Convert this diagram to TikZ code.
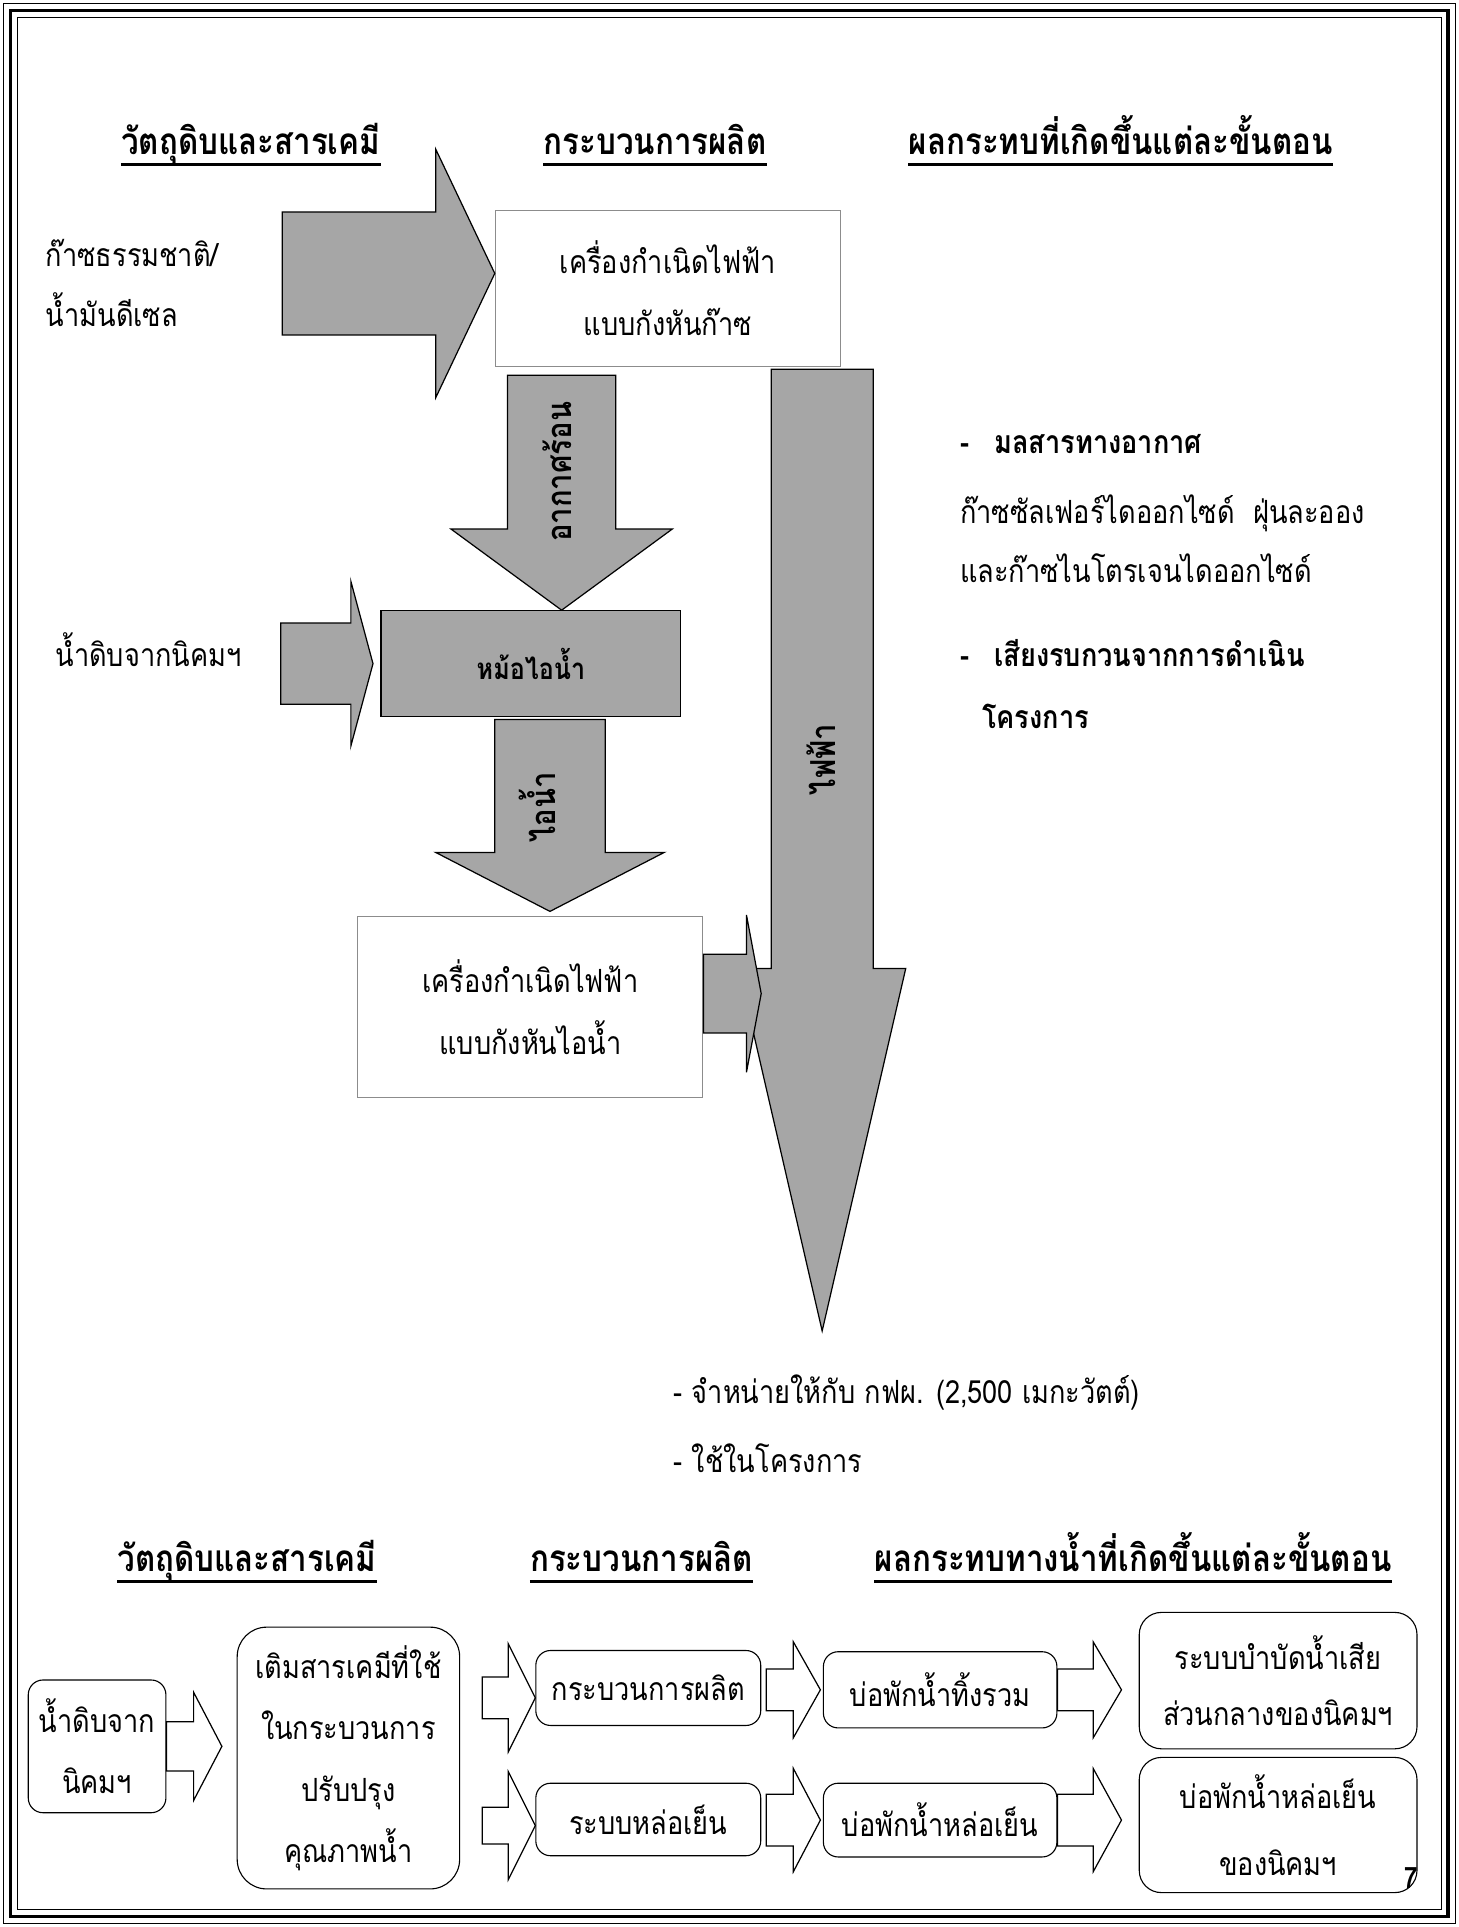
\documentclass[tikz,border=0pt]{standalone}
\usepackage{fontspec}
\setmainfont[Script=Thai, FakeStretch=0.85]{Loma}
\usetikzlibrary{positioning,calc}

% block arrows: style, tail, tip, shaft half width, head half width, head length
\newcommand{\rblock}[6]{\draw[#1] let \p1=#2, \p2=#3 in (\x1,\y2+#4) -- (\x2-#6,\y2+#4) -- (\x2-#6,\y2+#5) -- (\x2,\y2) -- (\x2-#6,\y2-#5) -- (\x2-#6,\y2-#4) -- (\x1,\y2-#4) -- cycle;}
\newcommand{\dblock}[6]{\draw[#1] let \p1=#2, \p2=#3 in (\x2-#4,\y1) -- (\x2-#4,\y2+#6) -- (\x2-#5,\y2+#6) -- (\x2,\y2) -- (\x2+#5,\y2+#6) -- (\x2+#4,\y2+#6) -- (\x2+#4,\y1) -- cycle;}

\begin{document}
\begin{tikzpicture}[x=1pt, y=-1pt,
  head/.style={font=\bfseries\fontsize{30}{34}\selectfont, anchor=base, inner xsep=0pt},
  uline/.style={line width=2.5pt},
  txt/.style={font=\fontsize{26}{30}\selectfont, anchor=base west, inner sep=0pt},
  btxt/.style={font=\bfseries\fontsize{26}{30}\selectfont, anchor=base west, inner sep=0pt},
  gbox/.style={draw=black!45, line width=0.8pt, align=center, inner sep=0pt, font=\fontsize{26}{50}\selectfont},
  rbox/.style={draw, line width=0.9pt, rounded corners=12pt, align=center, inner sep=0pt, font=\fontsize{26}{50}\selectfont},
  blk/.style={draw, line width=1pt, fill=black!35},
  wblk/.style={draw, line width=1pt, fill=white},
  vlab/.style={rotate=90, font=\bfseries\fontsize{28}{30}\selectfont}]

\useasboundingbox (0,0) rectangle (1187,1568);

% frame
\draw[line width=0.8pt] (3,3) rectangle (1184,1565);
\draw[line width=3pt] (8.5,8.5) rectangle (1178.5,1559.5);
\draw[line width=0.8pt] (14,14) rectangle (1173,1554);

%upper part: headings
\node[head] (h1) at (204,126) {วัตถุดิบและสารเคมี};
\node[head] (h2) at (533,126) {กระบวนการผลิต};
\node[head] (h3) at (912,126) {ผลกระทบที่เกิดขึ้นแต่ละขั้นตอน};
\foreach \h in {h1,h2,h3}
  \draw[uline] ([yshift=-8pt]\h.base west) -- ([yshift=-8pt]\h.base east);

%inputs
\node[txt] (gas) at (37,217) {ก๊าซธรรมชาติ/};
\node[txt] (oil) at (37,266) {น้ำมันดีเซล};
\node[txt] (raw) at (45,542) {น้ำดิบจากนิคมฯ};

%process
\node[gbox, minimum width=281, minimum height=127] (g1) at (543.5,234.5) {เครื่องกำเนิดไฟฟ้า\\แบบกังหันก๊าซ};
\node[blk, minimum width=244, minimum height=86, font=\bfseries\fontsize{24}{28}\selectfont] (blr) at (432,540) {หม้อไอน้ำ};
\node[gbox, minimum width=281, minimum height=147] (g2) at (431.5,819.5) {เครื่องกำเนิดไฟฟ้า\\แบบกังหันไอน้ำ};
\coordinate (sold) at (669,1083);

%block arrows
\rblock{blk}{([xshift=-173pt]g1.west)}{([yshift=12pt]g1.west)}{50}{101}{48}
\rblock{blk}{([xshift=-81pt]blr.west)}{([xshift=-6pt]blr.west)}{33}{67}{18}
\dblock{blk}{([yshift=-7pt]g1.south)}{([xshift=25pt]blr.north)}{44}{90}{66}
\dblock{blk}{([yshift=-2pt]blr.south)}{([xshift=16pt,yshift=4pt]g2.north)}{45}{93}{48}
\dblock{blk}{([yshift=-2pt]g1.south)}{(sold)}{41.5}{68}{295}
\rblock{blk}{(g2.east)}{([xshift=47pt,yshift=11pt]g2.east)}{32}{64}{12}

\node[vlab] (lair) at (453,384) {อากาศร้อน};
\node[vlab] (lstm) at (437,657) {ไอน้ำ};
\node[vlab] (lelc) at (668,618) {ไฟฟ้า};

%impacts
\node[btxt] (r1) at (781,369) {-\enspace\ มลสารทางอากาศ};
\node[txt] (r2) at (781,426) {ก๊าซซัลเฟอร์ไดออกไซด์\ \ ฝุ่นละออง};
\node[txt] (r3) at (781,474) {และก๊าซไนโตรเจนไดออกไซด์};
\node[btxt] (r4) at (781,542) {-\enspace\ เสียงรบกวนจากการดำเนิน};
\node[btxt] (r5) at (799,593) {โครงการ};

\node[txt] (s1) at (548,1142) {- จำหน่ายให้กับ กฟผ. (2,500 เมกะวัตต์)};
\node[txt] (s2) at (548,1198) {- ใช้ในโครงการ};

%lower part: headings
\node[head] (h4) at (201,1279) {วัตถุดิบและสารเคมี};
\node[head] (h5) at (522,1279) {กระบวนการผลิต};
\node[head] (h6) at (922,1279) {ผลกระทบทางน้ำที่เกิดขึ้นแต่ละขั้นตอน};
\foreach \h in {h4,h5,h6}
  \draw[uline] ([yshift=-8pt]\h.base west) -- ([yshift=-8pt]\h.base east);

%water boxes
\node[rbox, minimum width=112, minimum height=108] (b1) at (79,1421) {น้ำดิบจาก\\นิคมฯ};
\node[rbox, rounded corners=24pt, minimum width=181, minimum height=213] (b2) at (283.5,1430.5) {เติมสารเคมีที่ใช้\\ในกระบวนการ\\ปรับปรุง\\คุณภาพน้ำ};
\node[rbox, minimum width=183, minimum height=61] (b3) at (527.5,1373.5) {กระบวนการผลิต};
\node[rbox, minimum width=183, minimum height=59] (b4) at (527.5,1480.5) {ระบบหล่อเย็น};
\node[rbox, minimum width=190, minimum height=62] (b5) at (765,1375) {บ่อพักน้ำทิ้งรวม};
\node[rbox, minimum width=190, minimum height=60] (b6) at (765,1481) {บ่อพักน้ำหล่อเย็น};
\node[rbox, rounded corners=18pt, minimum width=226, minimum height=111, font=\fontsize{26}{46}\selectfont] (b7) at (1040,1367.5) {ระบบบำบัดน้ำเสีย\\ส่วนกลางของนิคมฯ};
\node[rbox, rounded corners=18pt, minimum width=226, minimum height=110, font=\fontsize{26}{55}\selectfont] (b8) at (1040,1485) {บ่อพักน้ำหล่อเย็น\\ของนิคมฯ};

\rblock{wblk}{(b1.east)}{([xshift=-12pt]b2.west |- b1.east)}{20}{44}{23}
\rblock{wblk}{([xshift=18pt]b2.east)}{([yshift=-8pt]b3.west)}{17}{44}{22}
\rblock{wblk}{([xshift=18pt]b2.east)}{([yshift=-5pt]b4.west)}{15}{44}{22}
\rblock{wblk}{([xshift=4pt]b3.east)}{([xshift=-2pt]b5.west)}{17}{39}{22}
\rblock{wblk}{([xshift=4pt]b4.east)}{([xshift=-2pt]b6.west)}{21}{42}{22}
\rblock{wblk}{(b5.east)}{([xshift=-14pt]b7.west |- b5.east)}{17}{39}{23}
\rblock{wblk}{(b6.east)}{([xshift=-14pt]b8.west |- b6.east)}{21}{42}{23}

\node[font=\bfseries\fontsize{24}{26}\selectfont] (pg) at (1148,1528) {7};
\end{tikzpicture}
\end{document}
